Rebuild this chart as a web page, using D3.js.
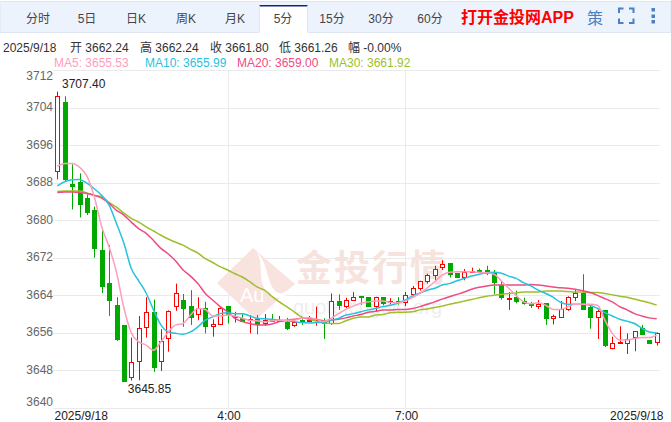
<!DOCTYPE html>
<html>
<head>
<meta charset="utf-8" />
<title>5分 K线</title>
<script src="https://cdn.jsdelivr.net/npm/d3@7"></script>
<style>
html, body { margin: 0; padding: 0; background: #fff; }
svg { display: block; font-family: "Liberation Sans", Arial, "Noto Sans CJK SC", sans-serif; }
</style>
</head>
<body>
<svg width="671" height="422"></svg>
<script>
const tabs = ['分时', '5日', '日K', '周K', '月K', '5分', '15分', '30分', '60分'];
const tabCenters = [38, 87, 136, 186, 235, 283, 332, 381, 430];
const yTicks = [3712, 3704, 3696, 3688, 3680, 3672, 3664, 3656, 3648, 3640];
const xTickIndex = [0, 23, 47, 81];
const xTickLabels = ['2025/9/18', '4:00', '7:00', '2025/9/18'];

const opens = [3690.4,3705.1,3687.8,3688.1,3684.7,3682.1,3673.6,3666.6,3661.9,3657.7,3646.5,3649.9,3657.2,3660.4,3650.1,3654.8,3661.7,3663.0,3661.7,3660.0,3661.3,3657.5,3657.8,3661.7,3659.4,3659.1,3658.7,3658.9,3658.0,3658.8,3658.6,3658.4,3657.6,3658.8,3658.4,3658.7,3658.5,3658.0,3662.8,3661.8,3663.0,3663.8,3663.6,3661.6,3663.6,3662.4,3662.8,3662.5,3664.3,3665.6,3667.2,3668.4,3669.9,3670.8,3668.8,3667.8,3669.0,3669.5,3669.4,3668.7,3666.3,3663.3,3663.6,3662.8,3662.3,3661.8,3662.3,3659.1,3659.5,3661.1,3663.6,3664.6,3661.6,3659.4,3660.9,3652.8,3653.9,3654.0,3655.0,3657.0,3654.5,3654.0];
const closes = [3706.4,3688.7,3687.4,3683.5,3681.8,3673.9,3666.0,3663.0,3654.7,3645.7,3649.7,3657.0,3660.4,3648.6,3654.3,3660.6,3664.4,3661.3,3659.4,3661.3,3657.5,3658.0,3661.2,3660.0,3659.6,3658.5,3658.9,3657.9,3658.7,3658.6,3658.8,3657.2,3658.3,3658.6,3658.7,3658.9,3658.1,3662.7,3661.9,3663.0,3663.6,3663.5,3661.6,3663.6,3662.3,3662.7,3662.6,3664.0,3665.5,3667.1,3668.4,3669.7,3670.6,3668.4,3668.0,3668.9,3669.2,3669.2,3668.8,3666.7,3663.8,3663.4,3662.8,3662.4,3661.8,3662.2,3659.0,3659.5,3661.1,3663.6,3664.4,3661.1,3659.4,3660.6,3653.5,3653.8,3654.0,3654.8,3656.3,3655.8,3653.9,3655.9];
const highs = [3707.4,3706.4,3691.9,3690.0,3685.5,3682.9,3678.3,3674.7,3663.6,3657.7,3655.0,3659.6,3663.6,3663.1,3656.8,3660.8,3666.5,3664.3,3665.1,3663.6,3662.6,3658.9,3661.6,3661.7,3660.5,3660.0,3659.8,3659.8,3660.0,3660.0,3659.6,3659.2,3658.9,3658.9,3659.6,3661.6,3659.1,3664.4,3664.2,3663.5,3664.7,3663.9,3663.6,3663.7,3663.6,3663.4,3663.6,3664.7,3666.0,3667.1,3668.6,3670.3,3671.5,3670.8,3668.8,3669.6,3669.9,3669.7,3670.3,3669.4,3666.9,3664.7,3665.0,3663.5,3662.6,3663.0,3662.3,3659.9,3662.8,3663.8,3665.1,3668.5,3661.9,3660.9,3660.9,3655.2,3657.4,3655.9,3656.3,3657.7,3654.5,3656.1];
const lows = [3688.7,3688.2,3682.3,3680.6,3681.1,3672.0,3664.5,3659.6,3654.3,3645.6,3645.85,3645.9,3655.0,3647.7,3647.9,3652.0,3660.7,3657.3,3657.7,3658.7,3655.9,3655.2,3657.7,3658.0,3658.2,3658.5,3655.9,3655.7,3657.5,3658.5,3658.4,3656.6,3657.3,3657.7,3658.4,3657.5,3654.7,3657.7,3660.9,3661.3,3663.0,3662.0,3661.6,3660.5,3661.9,3662.1,3662.0,3661.7,3663.7,3665.0,3666.5,3667.2,3669.4,3667.8,3667.7,3667.2,3668.8,3668.9,3668.3,3664.3,3663.1,3660.9,3662.3,3662.0,3661.3,3661.1,3657.7,3657.8,3659.3,3660.7,3662.8,3661.1,3656.9,3654.7,3653.0,3652.5,3653.8,3651.5,3652.1,3655.8,3653.6,3653.3];

const ma5 = [3691.5,3692.1,3692.1,3691.3,3689.4,3685.0,3678.6,3674.3,3668.9,3661.3,3656.0,3654.1,3653.4,3652.3,3654.1,3656.2,3657.7,3658.0,3659.8,3661.2,3661.0,3659.6,3659.6,3659.8,3659.6,3659.1,3658.7,3658.6,3658.3,3658.6,3658.7,3658.7,3658.7,3659.1,3659.2,3658.9,3658.4,3659.1,3660.1,3661.0,3661.7,3662.3,3662.6,3662.8,3662.8,3662.5,3662.4,3662.8,3663.5,3664.4,3665.6,3666.9,3668.3,3668.9,3669.0,3669.0,3669.0,3668.9,3668.8,3668.5,3667.1,3665.5,3664.0,3662.6,3662.2,3662.4,3661.9,3661.0,3661.0,3661.6,3662.1,3662.1,3662.1,3661.9,3658.7,3655.9,3654.5,3654.5,3654.8,3655.0,3655.0,3655.53];
const ma10 = [3687.3,3688.2,3688.6,3688.7,3687.9,3686.7,3685.3,3683.2,3679.3,3675.1,3669.7,3667.1,3664.5,3660.9,3657.7,3656.2,3655.9,3655.7,3656.2,3657.3,3658.7,3659.4,3660.1,3660.3,3660.1,3660.1,3659.6,3659.1,3659.0,3658.9,3658.7,3658.6,3658.4,3658.2,3658.1,3658.2,3658.3,3658.7,3659.1,3659.8,3660.1,3660.5,3660.9,3661.2,3661.6,3661.9,3662.3,3663.0,3663.9,3664.5,3665.1,3665.5,3666.2,3666.5,3667.1,3667.6,3668.1,3668.5,3668.8,3668.9,3668.7,3668.1,3667.6,3666.7,3666.0,3665.1,3664.4,3663.6,3662.5,3662.1,3662.1,3662.1,3661.9,3661.2,3660.3,3659.6,3658.9,3658.5,3658.0,3657.0,3656.2,3655.99];
const ma20 = [3685.9,3686.0,3686.0,3685.9,3685.7,3685.3,3684.7,3683.6,3682.1,3681.1,3679.6,3678.2,3677.2,3675.7,3674.0,3672.8,3671.3,3669.4,3668.1,3666.5,3664.4,3663.0,3661.6,3660.5,3659.1,3658.4,3658.0,3657.7,3657.7,3657.9,3658.4,3658.7,3658.9,3659.1,3659.1,3658.9,3658.6,3658.7,3658.9,3659.2,3659.6,3659.9,3660.4,3660.6,3660.9,3660.9,3661.0,3661.0,3661.2,3661.6,3662.1,3662.6,3663.2,3663.7,3664.2,3664.7,3665.3,3665.7,3666.0,3666.2,3666.2,3666.2,3666.2,3666.2,3666.3,3666.2,3666.0,3665.8,3665.6,3665.5,3665.3,3665.0,3664.6,3664.0,3663.3,3662.6,3661.6,3660.9,3660.1,3659.6,3659.2,3659.0];
const ma30 = [3686.1,3686.2,3686.2,3686.2,3685.8,3685.3,3685.0,3683.8,3682.8,3681.5,3680.4,3679.6,3678.6,3677.7,3676.8,3676.0,3675.3,3674.7,3673.8,3673.0,3671.8,3671.0,3670.1,3669.4,3668.6,3667.9,3666.9,3665.8,3665.1,3663.8,3662.6,3661.6,3660.5,3659.4,3658.9,3658.5,3658.1,3658.0,3658.0,3658.6,3659.1,3659.4,3659.4,3659.8,3659.9,3660.3,3660.4,3660.4,3660.5,3660.9,3661.1,3661.4,3661.7,3662.1,3662.4,3662.8,3663.1,3663.5,3663.8,3664.0,3664.2,3664.4,3664.5,3664.7,3664.7,3664.7,3664.9,3664.9,3664.9,3664.8,3664.7,3664.7,3664.6,3664.6,3664.4,3664.1,3663.8,3663.6,3663.2,3662.8,3662.4,3661.92];

const infoParts = ['2025/9/18', '开 3662.24', '高 3662.24', '收 3661.80', '低 3661.26', '幅 -0.00%'];
const infoX = [3, 70, 140, 210, 279, 348];
const maLabels = ['MA5: 3655.53', 'MA10: 3655.99', 'MA20: 3659.00', 'MA30: 3661.92'];
const maLabelX = [54, 145, 237, 329];
const maColors = ['#ff9ebb', '#26c2de', '#ee4c82', '#9dbf2b'];

const svg = d3.select('svg');

// toolbar
svg.append('rect').attr('x', 0).attr('y', 1.5).attr('width', 671).attr('height', 31)
	.attr('fill', '#edf3fc').attr('stroke', '#dfe6f2');
svg.append('rect').attr('x', 259.5).attr('y', 5).attr('width', 48).attr('height', 28).attr('fill', '#fff');
svg.append('rect').attr('x', 259.5).attr('y', 5).attr('width', 48).attr('height', 1.5).attr('fill', '#14277f');
svg.append('line').attr('x1', 259.5).attr('x2', 259.5).attr('y1', 6).attr('y2', 32).attr('stroke', '#dfe6f2');
svg.append('line').attr('x1', 307.5).attr('x2', 307.5).attr('y1', 6).attr('y2', 32).attr('stroke', '#dfe6f2');

svg.selectAll('.tab').data(tabs).enter().append('text')
	.attr('class', 'tab')
	.attr('x', (d, i) => tabCenters[i])
	.attr('y', 23)
	.attr('text-anchor', 'middle')
	.attr('font-size', 12)
	.attr('fill', '#444')
	.text(d => d);

svg.append('text').attr('x', 461).attr('y', 23)
	.attr('font-size', 16).attr('font-weight', 'bold').attr('fill', '#f00').text('打开金投网APP');
svg.append('text').attr('x', 595).attr('y', 24).attr('text-anchor', 'middle')
	.attr('font-size', 16).attr('fill', '#4a80c4').text('策');

// fullscreen corners and dots
svg.append('path')
	.attr('d', 'M619 13v-4.5h4.5M629 8.5h4.5v4.5M633.5 18.5v4.5h-4.5M623.5 23h-4.5v-4.5')
	.attr('fill', 'none').attr('stroke', '#4a80c4').attr('stroke-width', 2);
svg.selectAll('.dot').data([10, 16.5, 22]).enter().append('rect')
	.attr('class', 'dot').attr('x', 651.5).attr('y', d => d - 2).attr('width', 3.5).attr('height', 3.5).attr('fill', '#4a80c4');

// info rows
svg.selectAll('.info').data(infoParts).enter().append('text')
	.attr('class', 'info')
	.attr('x', (d, i) => infoX[i])
	.attr('y', 52)
	.attr('font-size', 12)
	.attr('fill', '#333')
	.text(d => d);
svg.selectAll('.malabel').data(maLabels).enter().append('text')
	.attr('class', 'malabel')
	.attr('x', (d, i) => maLabelX[i])
	.attr('y', 67)
	.attr('font-size', 12)
	.attr('fill', (d, i) => maColors[i])
	.text(d => d);

// scales
const y = d3.scaleLinear().domain([3640, 3712]).range([408, 70]);
const x = d3.scaleLinear().domain([0, 81]).range([57.3, 656.7]);

// grid
svg.append('g').selectAll('line').data(yTicks).enter().append('line')
	.attr('x1', 53).attr('x2', 660)
	.attr('y1', d => Math.round(y(d)) + 0.5).attr('y2', d => Math.round(y(d)) + 0.5)
	.attr('stroke', '#eaeaea');
svg.append('g').selectAll('line').data(xTickIndex.slice(1, 3)).enter().append('line')
	.attr('x1', d => Math.round(x(d)) + 0.5).attr('x2', d => Math.round(x(d)) + 0.5)
	.attr('y1', 70).attr('y2', 408)
	.attr('stroke', '#eaeaea');

// watermark
const mark = svg.append('g');
mark.append('path')
	.attr('d', 'M253 248L295 284L256 320L217 283Z')
	.attr('fill', '#f8e3de');
mark.append('path')
	.attr('d', 'M256 251C268 262 265 276 274 290C280 297 288 291 292 286L290 292C280 302 270 298 264 288C258 276 264 262 256 251Z')
	.attr('fill', '#fff');
mark.append('text').attr('x', 240).attr('y', 302)
	.attr('font-size', 20).attr('fill', '#fff').text('Au');
mark.append('text').attr('x', 296).attr('y', 281)
	.attr('font-size', 36).attr('font-weight', 'bold').attr('letter-spacing', 2).attr('fill', '#f7e3de').text('金投行情');
mark.append('text').attr('x', 293).attr('y', 314)
	.attr('font-size', 20).attr('fill', '#eeeeee').text('quote.cngold.org');

// axes
const yAxis = svg.append('g')
	.attr('transform', 'translate(53,0)')
	.call(d3.axisLeft(y).tickValues(yTicks).tickSize(0).tickPadding(0).tickFormat(d3.format('d')));
yAxis.select('.domain').remove();
yAxis.selectAll('text')
	.attr('font-family', '"Liberation Sans", Arial, sans-serif')
	.attr('font-size', 12).attr('fill', '#666')
	.attr('dy', d => d === 3712 ? '0.75em' : d === 3640 ? '-0.2em' : '0.25em');

const xAxis = svg.append('g')
	.attr('transform', 'translate(0,408)')
	.call(d3.axisBottom(x).tickValues(xTickIndex).tickSize(0).tickPadding(3)
		.tickFormat((d, i) => xTickLabels[i]));
xAxis.select('.domain').remove();
xAxis.selectAll('text')
	.attr('font-family', '"Liberation Sans", Arial, sans-serif')
	.attr('font-size', 12).attr('fill', '#222')
	.attr('text-anchor', (d, i) => i === 0 ? 'start' : i === 3 ? 'end' : 'middle')
	.attr('dx', (d, i) => i === 0 ? -3.3 : i === 3 ? 6.3 : 1);

// candles
const candles = opens.map((o, i) => ({ i: i, o: o, c: closes[i], h: highs[i], l: lows[i] }));
const isUp = d => d.c >= d.o;
const candle = svg.append('g').selectAll('g').data(candles).enter().append('g')
	.attr('transform', d => 'translate(' + Math.round(x(d.i)) + ',0)');
candle.append('line')
	.attr('x1', 0.5).attr('x2', 0.5)
	.attr('y1', d => y(d.h)).attr('y2', d => y(d.l))
	.attr('stroke', d => isUp(d) ? '#f00' : '#00a800');
candle.append('rect')
	.attr('x', -1.5).attr('width', 4)
	.attr('y', d => Math.round(y(Math.max(d.o, d.c))) + 0.5)
	.attr('height', d => Math.max(1, Math.round(Math.abs(y(d.o) - y(d.c)))))
	.attr('fill', d => isUp(d) ? '#fff' : '#00a800')
	.attr('stroke', d => isUp(d) ? '#f00' : '#00a800');

// moving averages, slowest underneath
const maLine = d3.line().x((d, i) => x(i)).y(d => y(d)).curve(d3.curveMonotoneX);
[ma30, ma20, ma10, ma5].forEach((s, k) => {
	svg.append('path')
		.attr('d', maLine(s))
		.attr('fill', 'none')
		.attr('stroke', maColors[3 - k])
		.attr('stroke-width', 1.5);
});

// high / low marks
svg.append('text').attr('x', x(0) + 4.7).attr('y', y(3707.4) - 4)
	.attr('font-size', 12).attr('fill', '#222').text('3707.40');
svg.append('text').attr('x', x(10) - 3.5).attr('y', y(3645.85) + 12.5)
	.attr('font-size', 12).attr('fill', '#222').text('3645.85');
</script>
</body>
</html>
